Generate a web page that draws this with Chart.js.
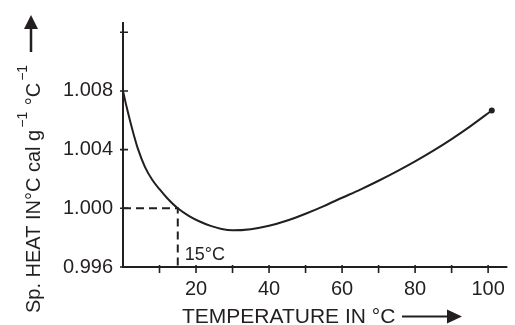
<!DOCTYPE html>
<html><head><meta charset="utf-8">
<script src="https://cdn.jsdelivr.net/npm/chart.js@4/dist/chart.umd.min.js"></script>
<style>html,body{margin:0;padding:0;background:#fff}#wrap{width:515px;height:325px;position:relative}</style>
</head><body><div id="wrap"><canvas id="c"></canvas></div>
<script>
// ---- data ----
const temperature = [0, 1, 2, 3, 4, 6, 8, 10, 12, 15, 18, 21, 24, 27, 30, 35, 40, 45, 50, 55, 60, 65, 70, 75, 80, 85, 90, 95, 101];
const specificHeat = [1.0080, 1.0069, 1.0059, 1.00497, 1.00412, 1.00283, 1.00195, 1.0013, 1.00072, 1.0000, 0.99949, 0.9991, 0.9988, 0.99859, 0.9985, 0.99858, 0.99881, 0.99917, 0.99963, 1.00015, 1.00072, 1.00128, 1.00188, 1.00252, 1.00320, 1.00393, 1.00472, 1.00557, 1.00667];
const guideTemperature = [0, 15, 15];
const guideHeat = [1.000, 1.000, 0.996];
const guideLabel = '15°C';
const xTickValues = [10, 20, 30, 40, 50, 60, 70, 80, 90, 100];
const xTickLabels = ['20', '40', '60', '80', '100'];
const yTickValues = [0.996, 1.000, 1.004, 1.008, 1.012];
const yTickLabels = ['0.996', '1.000', '1.004', '1.008'];
const xTitle = 'TEMPERATURE IN °C';
const yTitleParts = [['Sp. HEAT IN°C cal g', false], ['−1', true], [' °C', false], ['−1', true]];

const INK = '#231f20';
const FONT = '"Liberation Sans", Arial, sans-serif';

const curve = temperature.map((t, i) => ({x: t, y: specificHeat[i]}));
const guide = guideTemperature.map((t, i) => ({x: t, y: guideHeat[i]}));

const decor = {
  id: 'decor',
  afterDraw(chart) {
    const {ctx, chartArea: a, scales: {x, y}} = chart;
    ctx.save();
    ctx.strokeStyle = INK; ctx.fillStyle = INK;
    // axes
    ctx.lineWidth = 2;
    ctx.beginPath();
    ctx.moveTo(a.left, a.top); ctx.lineTo(a.left, a.bottom); ctx.lineTo(a.right + 1, a.bottom);
    ctx.stroke();
    // tick marks crossing the axes
    ctx.lineWidth = 1.6;
    ctx.beginPath();
    x.ticks.forEach(t => { const p = x.getPixelForValue(t.value); ctx.moveTo(p, a.bottom - 2); ctx.lineTo(p, a.bottom + 6); });
    y.ticks.forEach(t => { const p = y.getPixelForValue(t.value); ctx.moveTo(a.left - 3, p); ctx.lineTo(a.left + 5, p); });
    ctx.stroke();
    // guide label
    ctx.font = '18px ' + FONT;
    ctx.textBaseline = 'alphabetic'; ctx.textAlign = 'left';
    ctx.fillText(guideLabel, x.getPixelForValue(guideTemperature[1]) + 7, a.bottom - 7);
    // x title + arrow
    ctx.font = '21px ' + FONT;
    ctx.fillText(xTitle, 182, 323);
    ctx.lineWidth = 2;
    ctx.beginPath(); ctx.moveTo(402, 316.5); ctx.lineTo(450, 316.5); ctx.stroke();
    ctx.beginPath(); ctx.moveTo(447, 309.5); ctx.lineTo(462, 316.5); ctx.lineTo(447, 323.5); ctx.closePath(); ctx.fill();
    // y title (rotated) + arrow
    ctx.save();
    ctx.translate(40, 313);
    ctx.rotate(-Math.PI / 2);
    let cx = 0;
    yTitleParts.forEach(([txt, sup]) => {
      if (sup) {
        ctx.font = '14px ' + FONT;
        cx += 2;
        ctx.fillText(txt, cx, -13);
        cx += ctx.measureText(txt).width + 1;
      } else {
        ctx.font = '20px ' + FONT;
        ctx.fillText(txt, cx, 0);
        cx += ctx.measureText(txt).width;
      }
    });
    ctx.restore();
    ctx.lineWidth = 2.5;
    ctx.beginPath(); ctx.moveTo(31, 52); ctx.lineTo(31, 25); ctx.stroke();
    ctx.beginPath(); ctx.moveTo(24, 29); ctx.lineTo(31, 15); ctx.lineTo(38, 29); ctx.closePath(); ctx.fill();
    ctx.restore();
  }
};

new Chart(document.getElementById('c'), {
  type: 'line',
  data: {
    datasets: [
      {
        data: curve,
        borderColor: INK, borderWidth: 2,
        cubicInterpolationMode: 'monotone',
        pointRadius: c => c.dataIndex === curve.length - 1 ? 3 : 0,
        pointBackgroundColor: INK, pointBorderWidth: 0,
        fill: false
      },
      {
        data: guide,
        borderColor: INK, borderWidth: 2, borderDash: [8, 5],
        tension: 0, pointRadius: 0, fill: false
      }
    ]
  },
  options: {
    responsive: true, maintainAspectRatio: false, animation: false,
    devicePixelRatio: 1,
    layout: {padding: {left: 0, right: 1, top: 17, bottom: 0}},
    plugins: {legend: {display: false}, tooltip: {enabled: false}, title: {display: false}},
    scales: {
      x: {
        type: 'linear', min: 0, max: 105,
        grid: {display: false, drawTicks: false}, border: {display: false},
        afterBuildTicks: s => { s.ticks = xTickValues.map(v => ({value: v})); },
        afterFit: s => { s.height = 58; },
        ticks: {
          padding: 10, color: INK, font: {family: FONT, size: 20},
          maxRotation: 0, autoSkip: false,
          callback: v => { const l = String(v); return xTickLabels.includes(l) ? l : ''; }
        }
      },
      y: {
        type: 'linear', min: 0.996, max: 1.0127,
        grid: {display: false, drawTicks: false}, border: {display: false},
        afterBuildTicks: s => { s.ticks = yTickValues.map(v => ({value: v})); },
        afterFit: s => { s.width = 123; },
        ticks: {
          padding: 10, color: INK, font: {family: FONT, size: 20}, autoSkip: false,
          callback: v => { const l = Number(v).toFixed(3); return yTickLabels.includes(l) ? l : ''; }
        }
      }
    }
  },
  plugins: [decor]
});
</script>
</body></html>
